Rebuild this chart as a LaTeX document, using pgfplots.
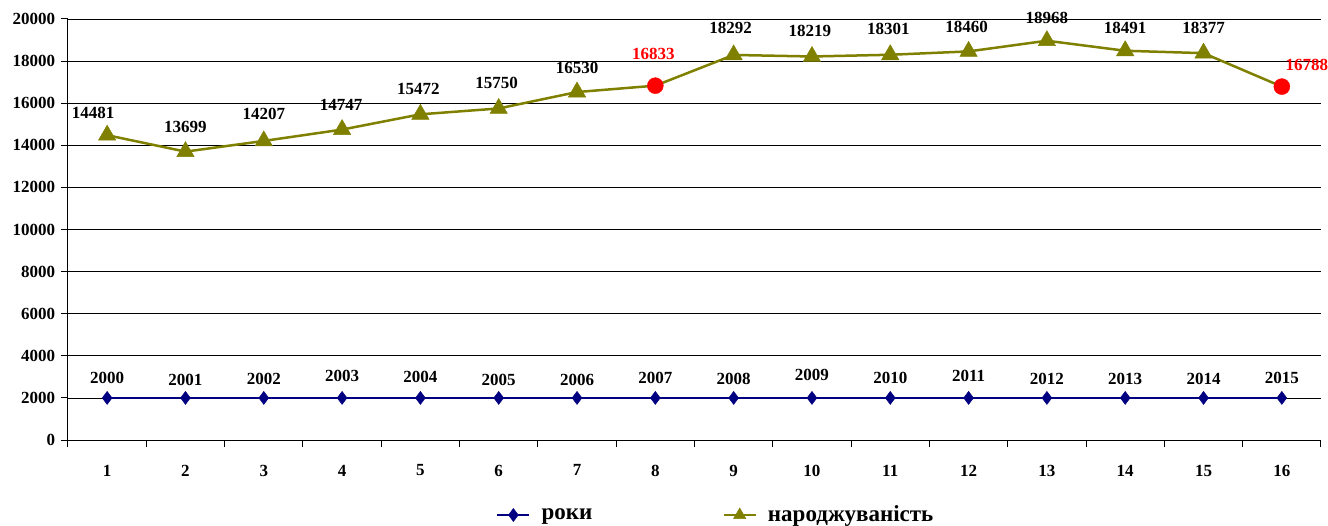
\documentclass[border=0pt]{standalone}
\usepackage{fontspec}
\setmainfont{Liberation Serif}
\usepackage{pgfplots}
\pgfplotsset{compat=1.18}
\usepackage{pgfplotstable}
\definecolor{olivel}{RGB}{128,128,0}
\definecolor{navyl}{RGB}{0,0,128}
\pgfplotsset{
  longlegend/.style={legend image code/.code={\draw[mark repeat=2,mark phase=2,##1] plot coordinates {(0pt,0pt)(16pt,0pt)(32pt,0pt)};}},
  olivelegend/.style={legend image code/.code={\draw[olivel, line width=2.5pt] (0pt,0pt) -- (32pt,0pt);
     \draw[olivel, fill=olivel, line width=0.5pt] plot[mark=triangle*, mark size=7pt] coordinates {(16pt,0pt)};}},
}

\pgfplotstableread{
x y lab dx dy
1 2000 2000 0 20
2 2000 2001 0 18
3 2000 2002 0 19
4 2000 2003 0 22
5 2000 2004 0 21
6 2000 2005 0 18
7 2000 2006 0 18
8 2000 2007 0 20
9 2000 2008 0 19
10 2000 2009 0 23
11 2000 2010 0 20
12 2000 2011 0 22
13 2000 2012 0 19
14 2000 2013 0 19
15 2000 2014 0 19
16 2000 2015 0 20
}\years

\pgfplotstableread{
x y lab dx dy
1 14481 14481 -14 22
2 13699 13699 0 25
3 14207 14207 0 27
4 14747 14747 -1 25
5 15472 15472 -2 25
6 15750 15750 -2 26
7 16530 16530 0 24
8 16833 {} 0 0
9 18292 18292 -3 27
10 18219 18219 -2 26
11 18301 18301 -2 26
12 18460 18460 -2 24
13 18968 18968 0 23
14 18491 18491 0 23
15 18377 18377 0 25
16 16788 {} 0 0
}\births

\pgfplotstableread{
x y lab dx dy
8 16833 16833 -2 32
16 16788 16788 25 22
}\reds

\begin{document}
\fontsize{17}{20}\selectfont
\begin{tikzpicture}
\begin{axis}[
  at={(0,0)}, anchor=south west,
  scale only axis, width=1253pt, height=421pt,
  xmin=0.5, xmax=16.5, ymin=0, ymax=20000,
  axis lines*=left,
  axis line style={black, line width=1pt},
  tick align=outside,
  major tick length=7pt,
  tick style={black, line width=1pt},
  ytick={0,2000,...,20000},
  scaled y ticks=false,
  xtick={0.5,1.5,...,16.5},
  xticklabels={},
  extra x ticks={1,2,...,16},
  extra x tick style={major tick length=0pt, xticklabel style={yshift=-19pt}},
  ymajorgrids,
  grid style={black, line width=0.8pt},
  ticklabel style={font=\fontsize{17}{20}\selectfont\bfseries},
  /pgf/number format/assume math mode=true,
  /pgf/number format/1000 sep={},
  clip=false,
  legend columns=2,
  legend style={at={(0.517,0)}, anchor=center, yshift=-75pt, draw=none, fill=none,
    font=\fontsize{23}{26}\selectfont\bfseries,
    /tikz/every odd column/.append style={column sep=9pt},
    /tikz/every even column/.append style={column sep=128pt},
    cells={anchor=west}},
  every node near coord/.append style={font=\fontsize{17}{20}\selectfont\bfseries, anchor=center,
    xshift=\lbdx pt, yshift=\lbdy pt},
  visualization depends on={\thisrow{dx}\as\lbdx},
  visualization depends on={\thisrow{dy}\as\lbdy},
]
\addplot[navyl, line width=2.5pt, mark=diamond*, mark size=6.5pt,
  mark options={fill=navyl, draw=navyl, line width=0.5pt},
  nodes near coords, point meta=explicit symbolic,
  every node near coord/.append style={text=black},
  longlegend
  ] table[x=x, y=y, meta=lab] {\years};
\addlegendentry{роки}

\addplot[olivel, line width=2.5pt, mark=triangle*, mark size=10pt,
  mark indices={1,2,3,4,5,6,7,9,10,11,12,13,14,15},
  mark options={fill=olivel, draw=olivel, line width=0.5pt},
  nodes near coords, point meta=explicit symbolic,
  every node near coord/.append style={text=black},
  olivelegend
  ] table[x=x, y=y, meta=lab] {\births};
\addlegendentry{народжуваність}

\addplot[only marks, red, mark=*, mark size=8pt, mark options={fill=red, draw=red},
  nodes near coords, point meta=explicit symbolic,
  every node near coord/.append style={text=red}, forget plot
  ] table[x=x, y=y, meta=lab] {\reds};
\end{axis}
\pgfresetboundingbox
\path (-68pt,-85pt) rectangle (1260pt,440pt);
\end{tikzpicture}
\end{document}
